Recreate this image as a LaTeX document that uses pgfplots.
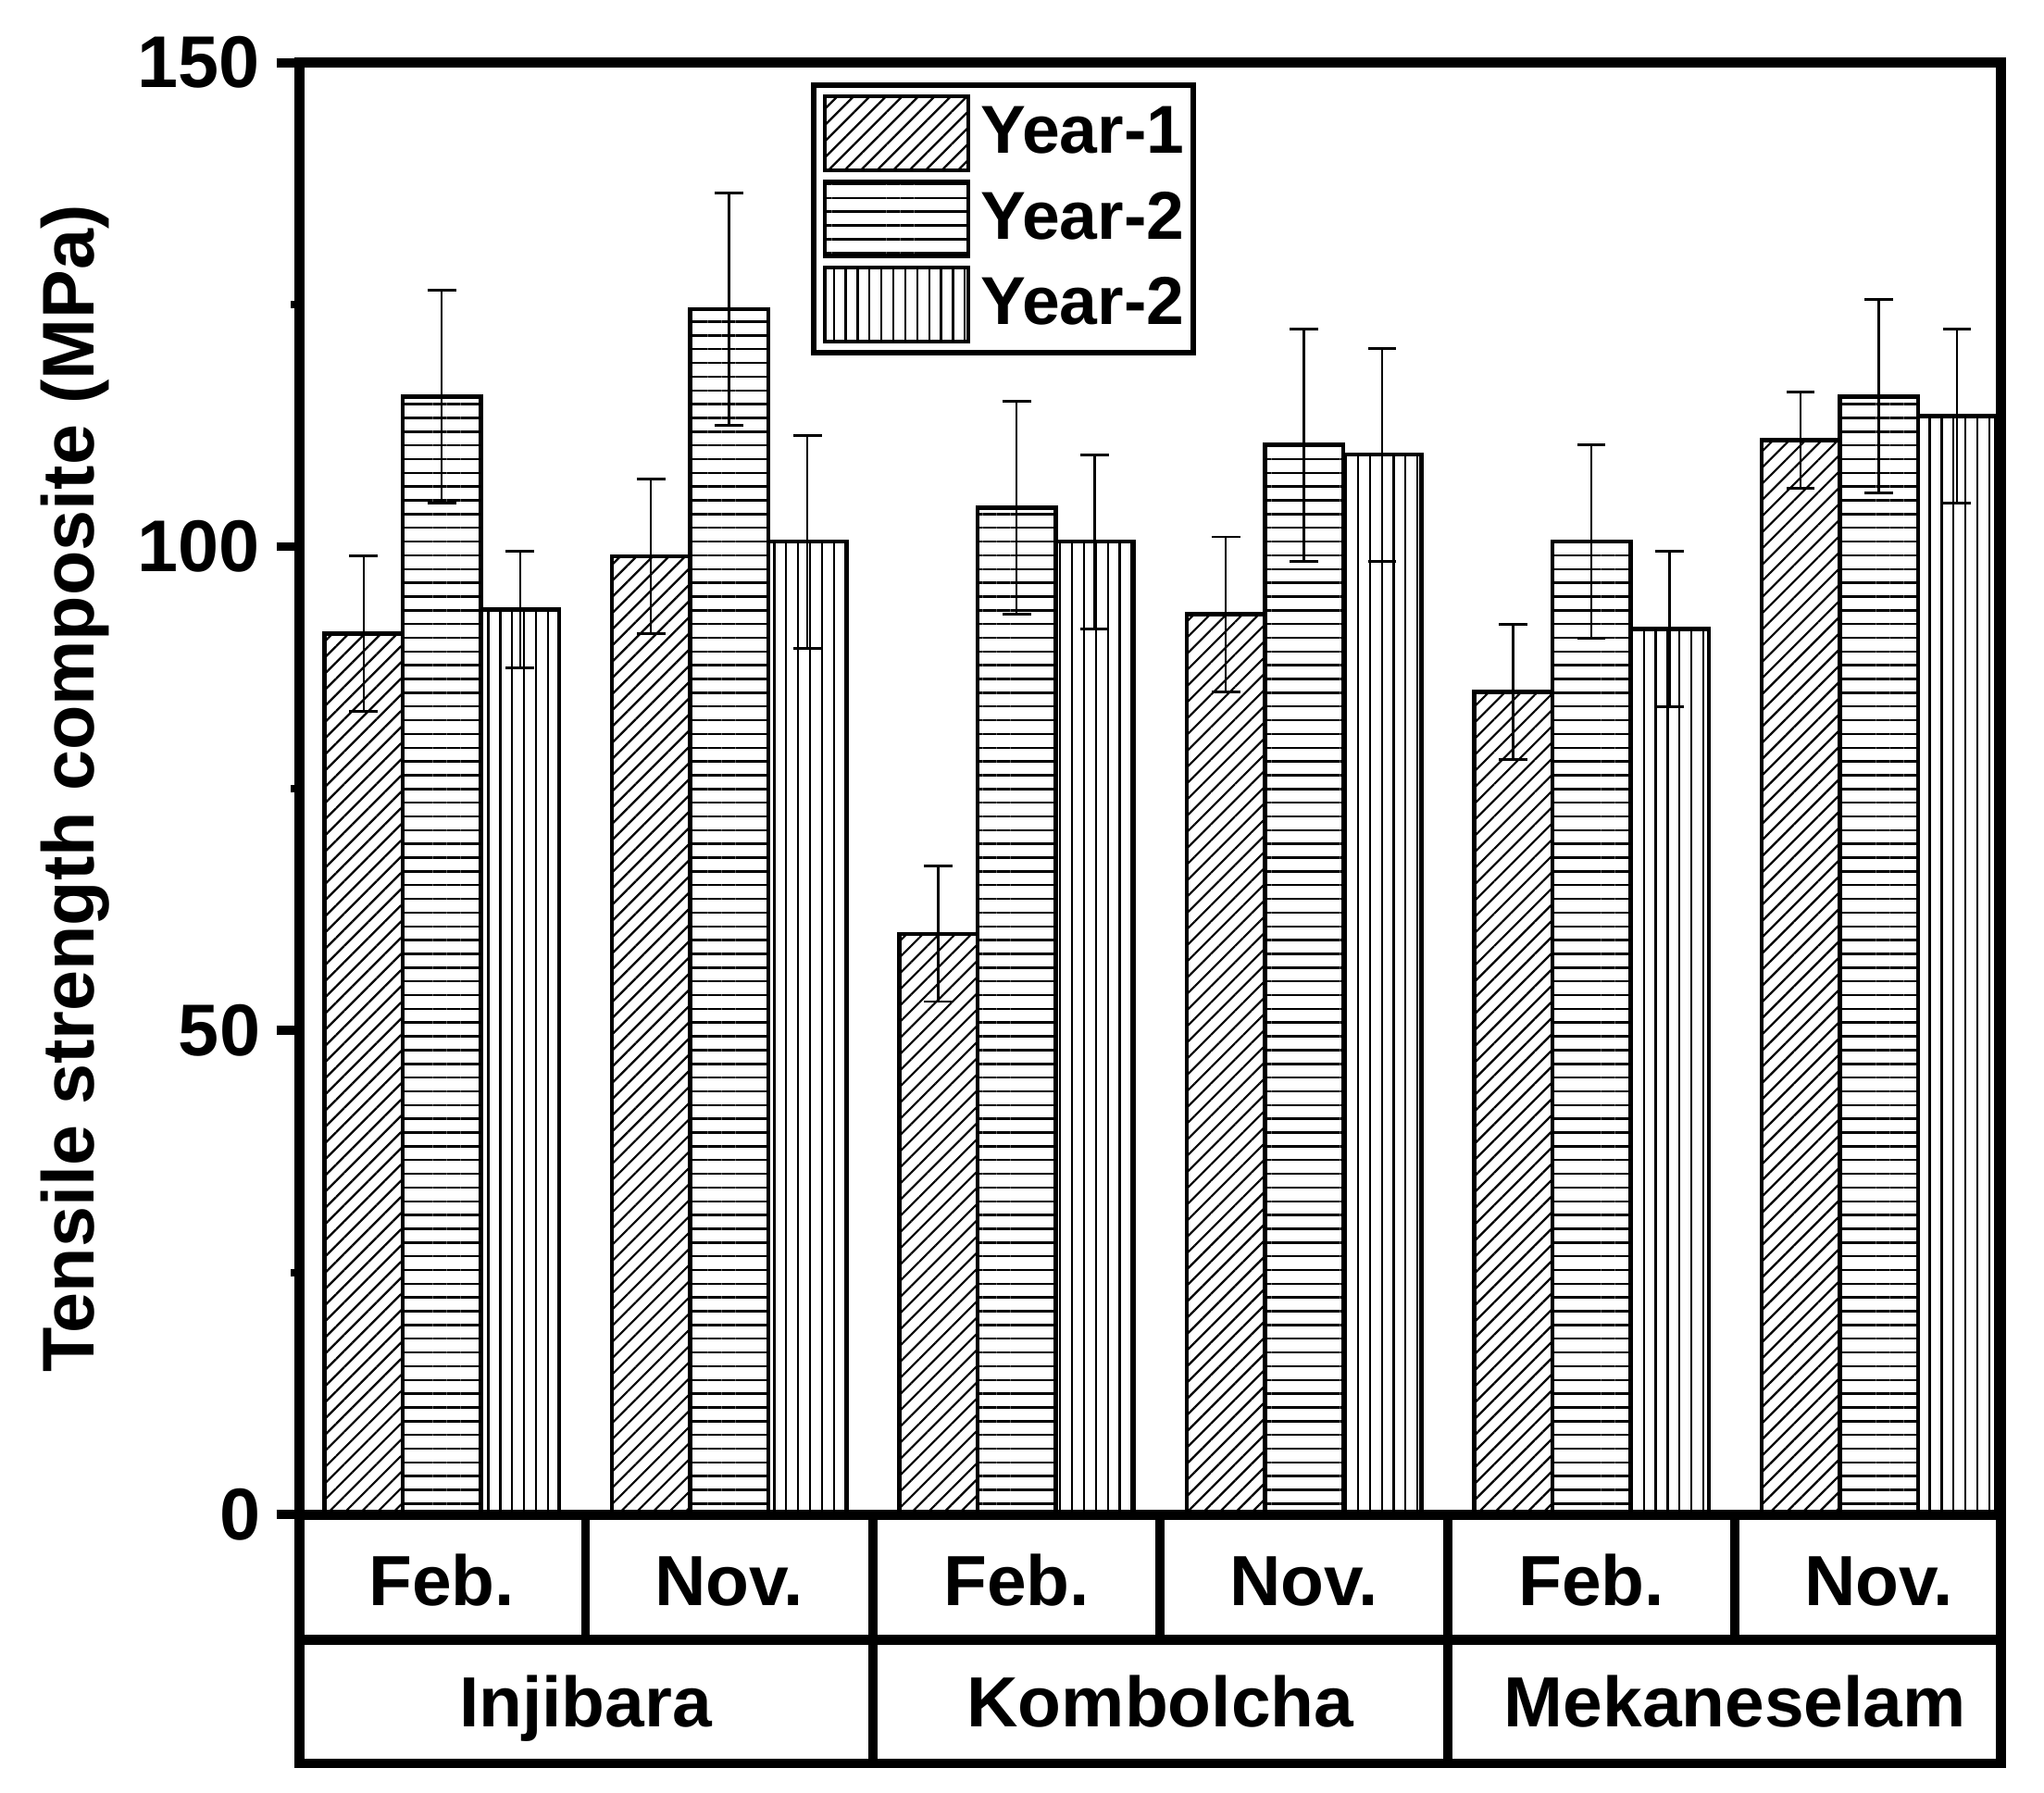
\documentclass[border=0pt]{standalone}
\usepackage{fontspec}
\setmainfont{Liberation Sans}
\usepackage{pgfplots}
\pgfplotsset{compat=1.18}
\usetikzlibrary{patterns.meta}

\newcommand{\tabfont}{\fontsize{15.5}{18}\selectfont\bfseries}

\begin{document}
\begin{tikzpicture}
\begin{axis}[
    scale only axis,
    width=13.05cm, height=11.14cm,
    ybar=0pt, bar width=0.6cm,
    xmin=-0.494, xmax=5.425,
    ymin=0, ymax=150,
    enlargelimits=false,
    clip=false,
    xtick=\empty,
    ytick={0,50,100,150},
    minor ytick={25,75,125},
    ytick pos=left,
    tick align=outside,
    major tick length=0.18cm,
    minor tick length=0.07cm,
    major tick style={line width=2pt, black},
    minor tick style={line width=1.7pt, black},
    axis line style={line width=2.2pt},
    /pgf/number format/assume math mode=true,
    yticklabel style={font=\fontsize{16}{19}\selectfont\bfseries},
    ylabel={Tensile strength composite (MPa)},
    ylabel style={at={(axis description cs:-0.1211,0.5)}, anchor=base,
                  font=\fontsize{16}{19}\selectfont\bfseries},
    legend style={
        at={(axis description cs:0.3004,0.9865)}, anchor=north west,
        draw=black, line width=1.2pt, inner xsep=2pt, inner ysep=2pt,
        font=\fontsize{14.8}{17}\selectfont\bfseries,
        row sep=0.055cm,
        nodes={inner sep=0pt, anchor=west},
        /tikz/every odd column/.append style={column sep=0.08cm},
    },
    legend image code/.code={
        \draw[#1, line width=0.9pt] (0cm,-0.285cm) rectangle (1.1cm,0.285cm);
    },
    every axis plot/.append style={draw=black, line width=0.9pt},
    error bars/error bar style={line width=0.5pt, black},
    error bars/error mark options={rotate=90, mark size=3.1pt, line width=0.6pt, black},
]

% Year-1
\addplot[pattern={Lines[angle=45, distance=2.5pt, line width=0.45pt]},
    error bars/.cd, y dir=both, y explicit]
coordinates {
    (0,91) +- (0,8)
    (1,99) +- (0,8)
    (2,60) +- (0,7)
    (3,93) +- (0,8)
    (4,85) +- (0,7)
    (5,111) +- (0,5)
};
\addlegendentry{Year-1}

% Year-2
\addplot[pattern={Lines[angle=0, distance=3pt, line width=0.5pt]},
    error bars/.cd, y dir=both, y explicit]
coordinates {
    (0,115.5) +- (0,11)
    (1,124.5) +- (0,12)
    (2,104) +- (0,11)
    (3,110.5) +- (0,12)
    (4,100.5) +- (0,10)
    (5,115.5) +- (0,10)
};
\addlegendentry{Year-2}

% third series (labelled Year-2 in the original)
\addplot[pattern={Lines[angle=90, distance=2.6pt, line width=0.45pt]},
    error bars/.cd, y dir=both, y explicit]
coordinates {
    (0,93.5) +- (0,6)
    (1,100.5) +- (0,11)
    (2,100.5) +- (0,9)
    (3,109.5) +- (0,11)
    (4,91.5) +- (0,8)
    (5,113.5) +- (0,9)
};
\addlegendentry{Year-2}

% category table under the axis
\draw[line width=2.2pt]
    (axis cs:-0.494,0) -- (axis cs:-0.494,-25.7) -- (axis cs:5.425,-25.7) -- (axis cs:5.425,0);
\draw[line width=2.2pt] (axis cs:-0.494,-12.97) -- (axis cs:5.425,-12.97);
\draw[line width=2pt] (axis cs:0.5,0) -- (axis cs:0.5,-12.97);
\draw[line width=2pt] (axis cs:1.5,0) -- (axis cs:1.5,-25.7);
\draw[line width=2pt] (axis cs:2.5,0) -- (axis cs:2.5,-12.97);
\draw[line width=2pt] (axis cs:3.5,0) -- (axis cs:3.5,-25.7);
\draw[line width=2pt] (axis cs:4.5,0) -- (axis cs:4.5,-12.97);

\node[anchor=base, font=\tabfont, inner sep=0pt] at (axis cs:0,-9.43) {Feb.};
\node[anchor=base, font=\tabfont, inner sep=0pt] at (axis cs:1,-9.43) {Nov.};
\node[anchor=base, font=\tabfont, inner sep=0pt] at (axis cs:2,-9.43) {Feb.};
\node[anchor=base, font=\tabfont, inner sep=0pt] at (axis cs:3,-9.43) {Nov.};
\node[anchor=base, font=\tabfont, inner sep=0pt] at (axis cs:4,-9.43) {Feb.};
\node[anchor=base, font=\tabfont, inner sep=0pt] at (axis cs:5,-9.43) {Nov.};
\node[anchor=base, font=\tabfont, inner sep=0pt] at (axis cs:0.5,-21.95) {Injibara};
\node[anchor=base, font=\tabfont, inner sep=0pt] at (axis cs:2.5,-21.95) {Kombolcha};
\node[anchor=base, font=\tabfont, inner sep=0pt] at (axis cs:4.5,-21.95) {Mekaneselam};

\coordinate (bbl) at (axis description cs:-0.17625,-0.19120);
\coordinate (btr) at (axis description cs:1.02529,1.04309);
\end{axis}
\pgfresetboundingbox
\path (bbl) rectangle (btr);
\end{tikzpicture}
\end{document}
